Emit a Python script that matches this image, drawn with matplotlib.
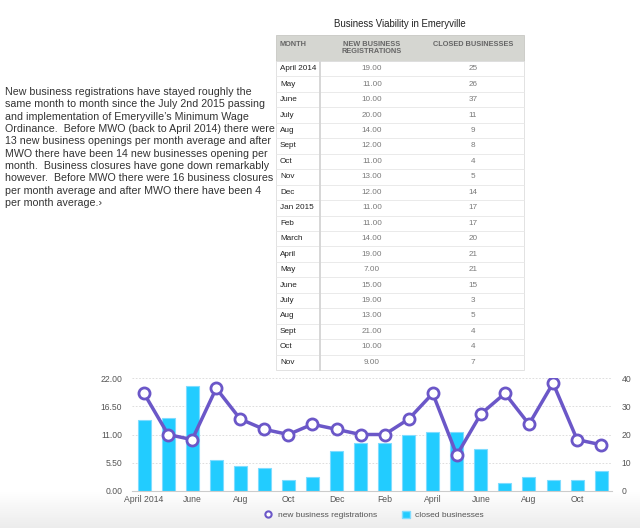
import matplotlib
matplotlib.use("Agg")
import matplotlib.pyplot as plt
import numpy as np
from matplotlib.lines import Line2D
from matplotlib.patches import Rectangle, Patch
from matplotlib.colors import LinearSegmentedColormap

plt.rcParams['font.family'] = ['Liberation Sans', 'DejaVu Sans']

# ---------------- data ----------------
months = ["April 2014", "May", "June", "July", "Aug", "Sept", "Oct", "Nov", "Dec",
          "Jan 2015", "Feb", "March", "April", "May", "June", "July", "Aug", "Sept",
          "Oct", "Nov"]
new_regs = [19, 11, 10, 20, 14, 12, 11, 13, 12, 11, 11, 14, 19, 7, 15, 19, 13, 21, 10, 9]
closed = [25, 26, 37, 11, 9, 8, 4, 5, 14, 17, 17, 20, 21, 21, 15, 3, 5, 4, 4, 7]
left_ticks = [0.0, 5.5, 11.0, 16.5, 22.0]
right_ticks = [0, 10, 20, 30, 40]
xtick_labels = ["April 2014", "June", "Aug", "Oct", "Dec", "Feb", "April", "June", "Aug", "Oct"]

title = "Business Viability in Emeryville"
headers = ["MONTH", "NEW BUSINESS\nREGISTRATIONS", "CLOSED BUSINESSES"]
paragraph = ("New business registrations have stayed roughly the\n"
             "same month to month since the July 2nd 2015 passing\n"
             "and implementation of Emeryville\u2019s Minimum Wage\n"
             "Ordinance.  Before MWO (back to April 2014) there were\n"
             "13 new business openings per month average and after\n"
             "MWO there have been 14 new businesses opening per\n"
             "month.  Business closures have gone down remarkably\n"
             "however.  Before MWO there were 16 business closures\n"
             "per month average and after MWO there have been 4\n"
             "per month average.\u203a")

W, H = 640, 528
fig = plt.figure(figsize=(W / 100, H / 100), dpi=100)
fig.patch.set_facecolor("white")

# ---------------- overlay (pixel coordinates) ----------------
ov = fig.add_axes([0, 0, 1, 1], zorder=-1)
ov.set_xlim(0, W)
ov.set_ylim(H, 0)
ov.axis("off")

# bottom gradient
grad = np.linspace(0, 1, 100).reshape(-1, 1)
cm = LinearSegmentedColormap.from_list("g", ["#ffffff", "#ececec"])
ov.imshow(grad, extent=(0, W, 528, 492), aspect="auto", cmap=cm, zorder=0)

# paragraph
ov.text(5, 87, paragraph, ha="left", va="top", fontsize=7.7, color="#333333",
        linespacing=1.29)

# table
tx0, tdiv, tx1 = 276, 320, 524
ty0, thead = 35, 61
row_h = 15.45
n = len(months)
ty1 = thead + row_h * n
ov.text((tx0 + tx1) / 2, 24, title, ha="center", va="center", fontsize=6.9, color="#222222")
ov.add_patch(Rectangle((tx0, ty0), tx1 - tx0, thead - ty0, facecolor="#d5d6d1",
                       edgecolor="#c8c8c4", lw=0.6, zorder=1))
ov.add_patch(Rectangle((tx0, thead), tx1 - tx0, ty1 - thead, facecolor="white",
                       edgecolor="#dddddd", lw=0.6, zorder=1))
col_new, col_closed = 372, 473
ov.text(tx0 + 4, (ty0 + thead) / 2 - 3, headers[0], ha="left", va="center",
        fontsize=5.3, color="#666666", fontweight="bold")
ov.text(col_new, (ty0 + thead) / 2, headers[1], ha="center", va="center",
        fontsize=5.3, color="#666666", fontweight="bold", linespacing=1.1)
ov.text(col_closed, (ty0 + thead) / 2 - 3, headers[2], ha="center", va="center",
        fontsize=5.3, color="#666666", fontweight="bold")
for i, (m, a, b) in enumerate(zip(months, new_regs, closed)):
    yc = thead + row_h * (i + 0.5)
    if i > 0:
        ov.plot([tx0, tx1], [thead + row_h * i] * 2, color="#e6e6e6", lw=0.6, zorder=2)
    ov.text(tx0 + 4, yc, m, ha="left", va="center", fontsize=5.9, color="#222222")
    ov.text(col_new, yc, f"{a:.2f}", ha="center", va="center", fontsize=5.9, color="#7a7a7a")
    ov.text(col_closed, yc, f"{b}", ha="center", va="center", fontsize=5.9, color="#7a7a7a")
ov.plot([tdiv, tdiv], [thead, ty1], color="#d6d6d6", lw=1.4, zorder=2)

# ---------------- chart ----------------
px_l, px_r, px_t, px_b = 132, 612, 378, 491
ax = fig.add_axes([px_l / W, 1 - px_b / H, (px_r - px_l) / W, (px_b - px_t) / H])
ax.set_facecolor("none")
x = np.arange(n)
bars = ax.bar(x, closed, width=0.54, color="#22ccff", edgecolor="#7fdcff", lw=0.8, zorder=2)
ax.set_ylim(0, 40)
ax.set_xlim(-0.5, 19.45)
ax.set_xticks(x[::2])
ax.set_xticklabels(xtick_labels)
ax.tick_params(axis="x", length=0, pad=3, labelsize=6.2, labelcolor="#555555")
for s in ["top", "left", "right"]:
    ax.spines[s].set_visible(False)
ax.spines["bottom"].set_color("#cccccc")
ax.spines["bottom"].set_linewidth(0.8)
for t in right_ticks[1:]:
    ax.axhline(t, color="#d8d8d8", lw=0.6, ls=(0, (2, 2)), zorder=0)

ax2 = ax.twinx()
ax2.set_ylim(0, 22)
ax2.yaxis.tick_left()
ax2.set_yticks(left_ticks)
ax2.set_yticklabels([f"{t:.2f}" for t in left_ticks])
ax2.tick_params(axis="y", length=0, pad=7, labelsize=6.2, labelcolor="#555555")
for s in ax2.spines.values():
    s.set_visible(False)
ax2.plot(x, new_regs, color="#6b57c8", lw=2.5, marker="o", markersize=8,
         markerfacecolor="white", markeredgecolor="#6b57c8", markeredgewidth=2.0, zorder=3)

# right axis for bars (after twinx, which resets it)
ax.yaxis.tick_right()
ax.set_yticks(right_ticks)
ax.set_yticklabels([str(t) for t in right_ticks])
ax.tick_params(axis="y", length=0, pad=7, labelsize=6.2, labelcolor="#555555")

# legend
handles = [Line2D([], [], marker="o", ls="none", markersize=4.5, markerfacecolor="white",
                  markeredgecolor="#6b57c8", markeredgewidth=1.5),
           Patch(facecolor="#22ccff", edgecolor="#7fdcff")]
fig.legend(handles, ["new business registrations", "closed businesses"], ncol=2,
           loc="center", bbox_to_anchor=(374 / W, 1 - 515 / H), frameon=False,
           fontsize=6.0, labelcolor="#555555", columnspacing=3.0, handlelength=1.0,
           handletextpad=0.6, handleheight=1.0)

fig.savefig("out.png", dpi=100)
